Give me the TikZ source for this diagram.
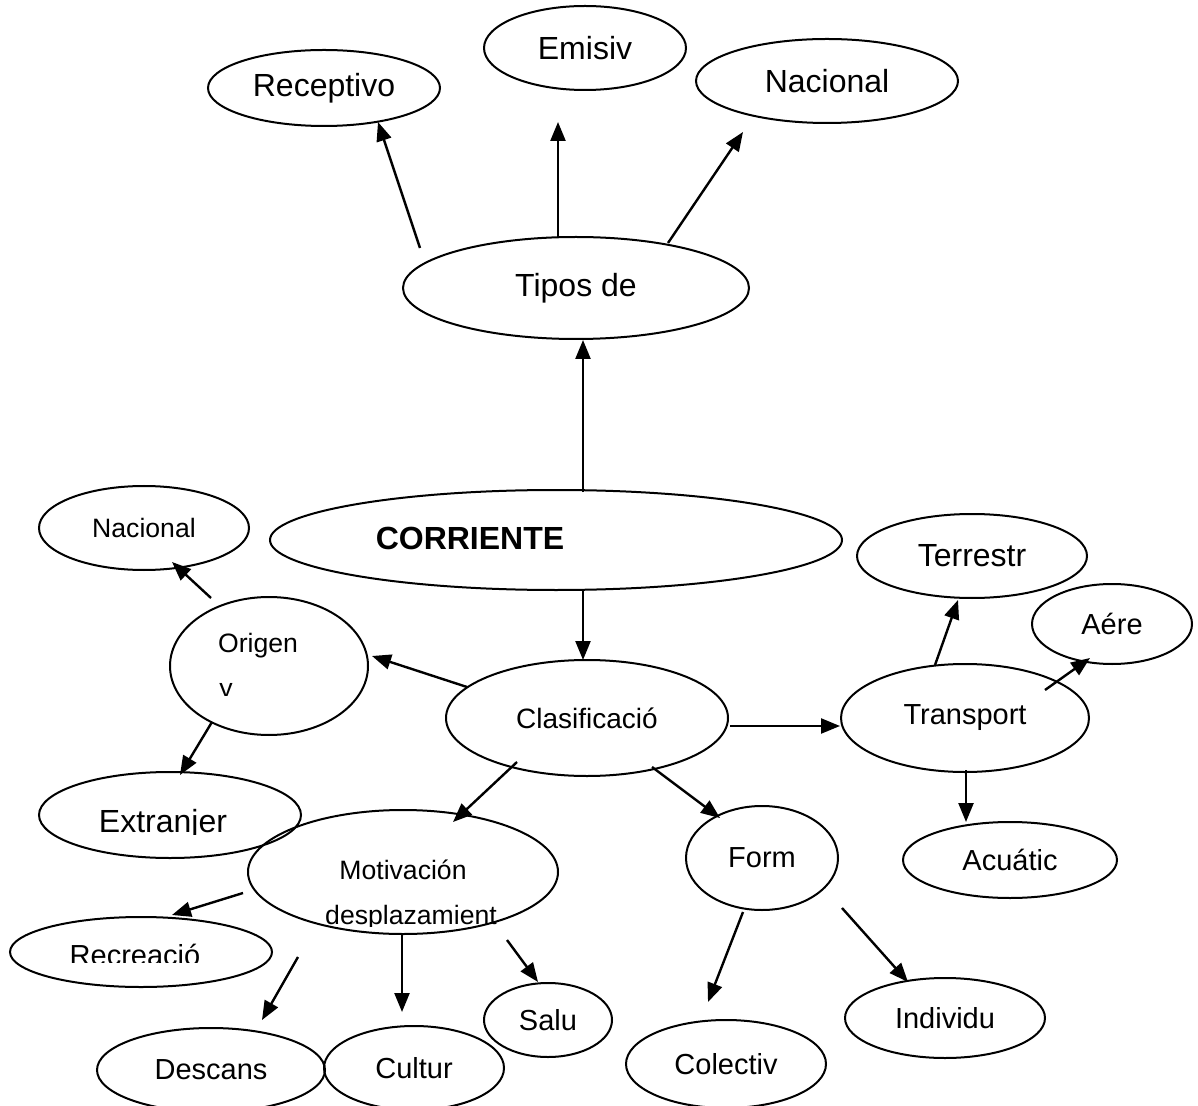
\documentclass[tikz,border=0pt]{standalone}
\usepackage{fontspec}
\setmainfont{Liberation Sans}
\usetikzlibrary{arrows.meta,shapes.geometric,calc}

\tikzset{
  oval/.style={draw,ellipse,line width=1pt,inner sep=0pt},
  big/.style={font=\fontsize{16}{19}\selectfont},
  mid/.style={font=\fontsize{14.5}{17}\selectfont},
  small/.style={font=\fontsize{13.3}{16}\selectfont},
  link/.style={-{Triangle[length=9.5pt,width=7.5pt]},line width=1.2pt},
}

\begin{document}
\begin{tikzpicture}[x=0.5pt,y=-0.5pt]
                \useasboundingbox (0,0) rectangle (1198,1106);
                % top
                \node[oval,big,minimum width=116pt,minimum height=38pt] (recep) at (324,88) {Receptivo};
                \node[oval,big,minimum width=101pt,minimum height=42pt] (emis) at (585,48) {Emisiv};
                \node[oval,big,minimum width=131pt,minimum height=42pt] (nacT) at (827,81) {Nacional};
                \node[oval,big,minimum width=173pt,minimum height=51pt] (tipos) at (576,288) {Tipos de};
                \node[oval,minimum width=286pt,minimum height=50pt] (corr) at (556,540) {};
                \node[anchor=base,font=\fontsize{16}{19}\selectfont\bfseries] (corrT) at (470,549) {CORRIENTE};
                \node[oval,font=\fontsize{14}{17}\selectfont,minimum width=141pt,minimum height=58pt] (clas) at (587,718) {Clasificació};
                % left
                \node[oval,small,minimum width=105pt,minimum height=42pt] (nacL) at (144,528) {Nacional};
                \node[oval,minimum width=99pt,minimum height=69pt] (origen) at (269,666) {};
                \node[small,anchor=base] (origenT) at (258,652) {Origen};
                \begin{scope}
                \clip (150,600) rectangle (300,695);
                \node[small,anchor=base] (origenY) at (226,697) {y};
                \end{scope}
                \node[oval,minimum width=131pt,minimum height=43pt] (extr) at (170,815) {};
                \begin{scope}
                \clip (40,780) rectangle (300,834);
                \node[big,anchor=base] (extrT) at (163,832) {Extranjer};
                \end{scope}
                % bottom
                \node[oval,minimum width=155pt,minimum height=62pt] (motiv) at (403,872) {};
                \node[small,anchor=base] (motivT) at (403,879) {Motivación};
                \begin{scope}
                \clip (300,890) rectangle (520,926);
                \node[small,anchor=base] (motivB) at (411,924) {desplazamient};
                \end{scope}
                \node[oval,minimum width=131pt,minimum height=35pt] (recr) at (141,952) {};
                \begin{scope}
                \clip (20,930) rectangle (260,962);
                \node[mid,anchor=base] (recrT) at (135,965) {Recreació};
                \end{scope}
                \node[oval,mid,minimum width=114pt,minimum height=42pt] (desc) at (211,1070) {Descans};
                \node[oval,mid,minimum width=90pt,minimum height=42pt] (cult) at (414,1068) {Cultur};
                \node[oval,mid,minimum width=64pt,minimum height=37pt] (salu) at (548,1020) {Salu};
                \node[oval,mid,minimum width=76pt,minimum height=52pt] (form) at (762,858) {Form};
                \node[oval,mid,minimum width=100pt,minimum height=44pt] (colec) at (726,1064) {Colectiv};
                \node[oval,mid,minimum width=100pt,minimum height=40pt] (indiv) at (945,1018) {Individu};
                % right
                \node[oval,mid,minimum width=124pt,minimum height=54pt] (transp) at (965,718) {Transport};
                \node[oval,big,minimum width=115pt,minimum height=42pt] (terr) at (972,556) {Terrestr};
                \node[oval,mid,minimum width=80pt,minimum height=40pt] (aere) at (1112,624) {Aére};
                \node[oval,mid,minimum width=107pt,minimum height=38pt] (acuat) at (1010,860) {Acuátic};
                \foreach \s/\sx/\sy/\t/\tx/\ty in {
                  tipos/-156/-40/recep/54/34, tipos/-18/-51/emis/-27/74, tipos/92/-45/nacT/-84/51,
                  corr/27/-48/tipos/7/52, corr/27/50/clas/-4/-58,
                  clas/-120/-31/origen/103/-10, origen/-58/-68/nacL/28/34, origen/-57/56/extr/10/-40,
                  clas/-70/44/motiv/50/-50, clas/65/49/form/-42/-40, clas/143/8/transp/-125/8,
                  transp/-30/-53/terr/-14/44, transp/80/-28/aere/-22/34, transp/1/52/acuat/-44/-38,
                  form/-19/54/colec/-18/-62, form/80/50/indiv/-37/-36,
                  motiv/-160/21/recr/31/-37, motiv/-105/85/desc/51/-50,
                  motiv/-1/62/cult/-12/-56, motiv/104/68/salu/-10/-38}
                \draw[link] ($(\s)+(\sx,\sy)$) -- ($(\t)+(\tx,\ty)$);
            \end{tikzpicture}
\end{document}
